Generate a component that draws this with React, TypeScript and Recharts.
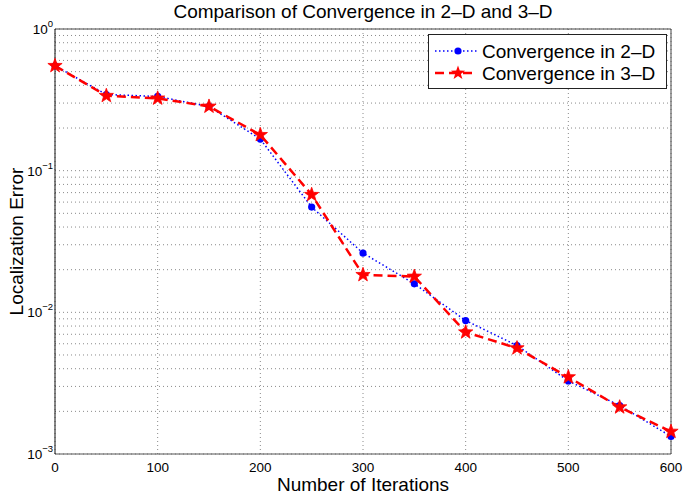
import React from 'react';
import {
  LineChart,
  Line,
  XAxis,
  YAxis,
  CartesianGrid,
  Legend,
} from 'recharts';

const iterations = [0, 50, 100, 150, 200, 250, 300, 350, 400, 450, 500, 550, 600];
const err2D = [0.55, 0.345, 0.334, 0.284, 0.167, 0.0553, 0.0262, 0.0159, 0.00875, 0.00583, 0.00328, 0.0022, 0.00133];
const err3D = [0.55, 0.338, 0.324, 0.284, 0.179, 0.0676, 0.0184, 0.0179, 0.00724, 0.00559, 0.00349, 0.00214, 0.00144];

const xTicks = [0, 100, 200, 300, 400, 500, 600];
const yTicks = [
  0.001, 0.002, 0.003, 0.004, 0.005, 0.006, 0.007, 0.008, 0.009,
  0.01, 0.02, 0.03, 0.04, 0.05, 0.06, 0.07, 0.08, 0.09,
  0.1, 0.2, 0.3, 0.4, 0.5, 0.6, 0.7, 0.8, 0.9, 1,
];
const decadeLabels: Record<string, string> = { '0.001': '−3', '0.01': '−2', '0.1': '−1', '1': '0' };

const data = iterations.map((it, i) => ({ it, e2: err2D[i], e3: err3D[i] }));

const FONT = '"Liberation Sans", Arial, Helvetica, sans-serif';

function starPoints(cx: number, cy: number, R: number, r: number) {
  const pts: string[] = [];
  for (let k = 0; k < 10; k++) {
    const rad = k % 2 === 0 ? R : r;
    const a = -Math.PI / 2 + (k * Math.PI) / 5;
    pts.push(`${cx + rad * Math.cos(a)},${cy + rad * Math.sin(a)}`);
  }
  return pts.join(' ');
}

const StarDot = (props: any) => {
  const { cx, cy, index } = props;
  if (cx == null || cy == null) return <g key={index} />;
  return <polygon key={index} points={starPoints(cx, cy, 7.5, 3)} fill="#ff0000" stroke="#ff0000" strokeWidth={0.8} />;
};

const BlueDot = (props: any) => {
  const { cx, cy, index } = props;
  if (cx == null || cy == null) return <g key={index} />;
  return <circle key={index} cx={cx} cy={cy} r={3.6} fill="#0000ff" stroke="none" />;
};

// MATLAB-style "10^k" labels, only on decades
const YTick = (props: any) => {
  const { x, y, payload } = props;
  const exp = decadeLabels[String(payload.value)];
  if (!exp) return <g />;
  return (
    <text x={x + 6} y={y + 5} textAnchor="end" fontFamily={FONT} fontSize={13.5} fill="#000">
      <tspan>10</tspan>
      <tspan dy={-7} fontSize={9.5}>{exp}</tspan>
    </text>
  );
};

const YLabel = (props: any) => {
  const { viewBox } = props;
  const cy = viewBox.y + viewBox.height / 2;
  return (
    <text
      x={16}
      y={cy}
      transform={`rotate(-90, 16, ${cy})`}
      textAnchor="middle"
      dominantBaseline="central"
      fontFamily={FONT}
      fontSize={19}
      fill="#000"
    >
      Localization Error
    </text>
  );
};

const LegendBox = () => (
  <svg width={240} height={56} style={{ display: 'block' }}>
    <rect x={0.5} y={0.5} width={238} height={54} fill="#fff" stroke="#222" strokeWidth={1} />
    <line x1={7} y1={17} x2={49} y2={17} stroke="#0000ff" strokeWidth={1.5} strokeDasharray="1.5 2.5" />
    <circle cx={30} cy={17} r={3.6} fill="#0000ff" />
    <text x={54} y={24} fontFamily={FONT} fontSize={19} fill="#000">Convergence in 2–D</text>
    <line x1={7} y1={39} x2={49} y2={39} stroke="#ff0000" strokeWidth={2.5} strokeDasharray="9 5" />
    <polygon points={starPoints(30, 39, 7.5, 3)} fill="#ff0000" />
    <text x={54} y={46} fontFamily={FONT} fontSize={19} fill="#000">Convergence in 3–D</text>
  </svg>
);

export default function App() {
  return (
    <div style={{ position: 'absolute', left: 0, top: 0, width: 685, height: 497, background: '#fff' }}>
      <div
        style={{
          position: 'absolute',
          left: 55,
          width: 616,
          top: 1,
          textAlign: 'center',
          fontFamily: FONT,
          fontSize: 19,
          color: '#000',
          lineHeight: '22px',
        }}
      >
        Comparison of Convergence in 2–D and 3–D
      </div>
      <LineChart
        width={685}
        height={497}
        data={data}
        margin={{ top: 28, right: 13, bottom: 0, left: 0 }}
        style={{ fontFamily: FONT }}
      >
        <CartesianGrid stroke="#8a8a8a" strokeDasharray="1 3" yAxisId="left" />
        <XAxis
          dataKey="it"
          type="number"
          domain={[0, 600]}
          ticks={xTicks}
          interval={0}
          height={43}
          stroke="#555"
          tickLine={false}
          tick={{ fill: '#000', fontSize: 13.5, fontFamily: FONT }}
          tickMargin={2}
          label={{ value: 'Number of Iterations', position: 'insideBottom', offset: 6, fill: '#000', fontSize: 19, fontFamily: FONT }}
        />
        <XAxis xAxisId="top" orientation="top" dataKey="it" type="number" domain={[0, 600]} height={1} tick={false} tickLine={false} stroke="#444" />
        <YAxis
          yAxisId="left"
          scale="log"
          type="number"
          domain={[0.001, 1]}
          allowDataOverflow
          ticks={yTicks}
          interval={0}
          width={55}
          stroke="#111"
          tickLine={false}
          tick={<YTick />}
          label={<YLabel />}
        />
        <YAxis yAxisId="right" orientation="right" scale="log" type="number" domain={[0.001, 1]} width={1} tick={false} tickLine={false} stroke="#444" />
        <Legend
          layout="vertical"
          align="center"
          verticalAlign="middle"
          content={<LegendBox />}
          wrapperStyle={{ left: 428, top: 34, width: 240, height: 56 }}
        />
        <Line
          yAxisId="left"
          type="linear"
          dataKey="e2"
          name="Convergence in 2–D"
          stroke="#0000ff"
          strokeWidth={1.5}
          strokeDasharray="1.5 2.5"
          dot={<BlueDot />}
          activeDot={false}
          isAnimationActive={false}
        />
        <Line
          yAxisId="left"
          type="linear"
          dataKey="e3"
          name="Convergence in 3–D"
          stroke="#ff0000"
          strokeWidth={2.5}
          strokeDasharray="9 5"
          dot={<StarDot />}
          activeDot={false}
          isAnimationActive={false}
        />
      </LineChart>
    </div>
  );
}
